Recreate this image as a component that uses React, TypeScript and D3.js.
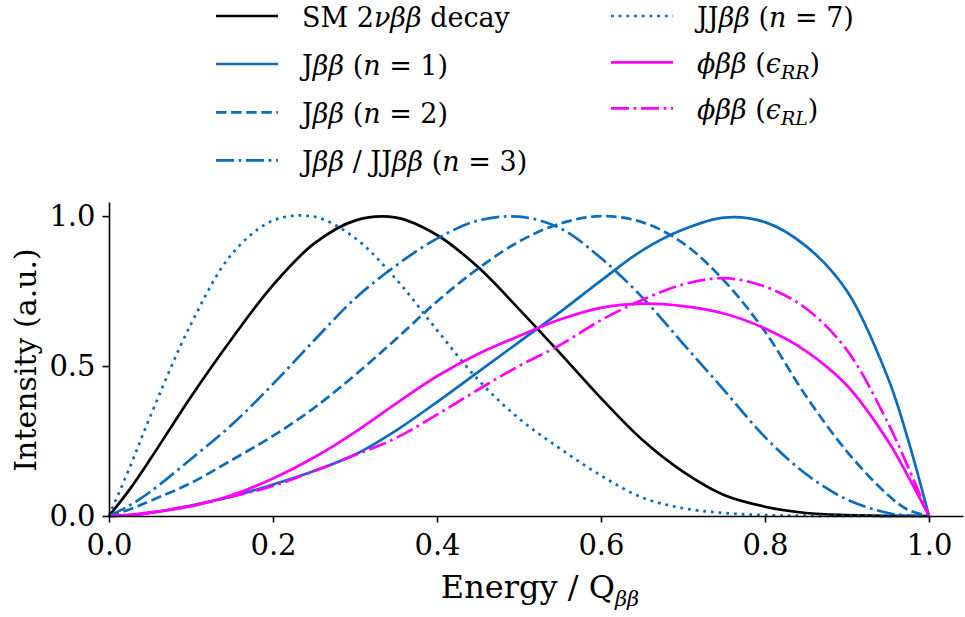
import * as d3 from "d3";
import React, { useRef, useEffect } from "react";

// sample positions along Energy / Q
const energy = [0, 0.025, 0.05, 0.1, 0.15, 0.2, 0.25, 0.3, 0.35, 0.4, 0.45, 0.5, 0.55, 0.6, 0.65, 0.7, 0.75, 0.8, 0.85, 0.9, 0.95, 0.975, 1.0];

const smDecay = [0, 0.088, 0.188, 0.398, 0.592, 0.77, 0.908, 0.985, 0.995, 0.937, 0.83, 0.69, 0.543, 0.393, 0.255, 0.148, 0.07, 0.031, 0.01, 0.003, 0.0005, 0, 0];
const jbbN1 = [0, 0.003, 0.01, 0.035, 0.065, 0.105, 0.15, 0.205, 0.285, 0.38, 0.48, 0.58, 0.68, 0.785, 0.885, 0.955, 0.995, 0.98, 0.9, 0.75, 0.46, 0.25, 0];
const jbbN2 = [0, 0.022, 0.05, 0.11, 0.187, 0.267, 0.36, 0.47, 0.59, 0.715, 0.825, 0.915, 0.975, 1.0, 0.98, 0.91, 0.785, 0.615, 0.4, 0.215, 0.07, 0.02, 0];
const jbbN3 = [0, 0.035, 0.08, 0.19, 0.305, 0.44, 0.585, 0.725, 0.835, 0.925, 0.985, 0.998, 0.96, 0.86, 0.73, 0.575, 0.42, 0.263, 0.14, 0.055, 0.01, 0.002, 0];
const jjbbN7 = [0, 0.16, 0.33, 0.64, 0.874, 0.985, 0.998, 0.927, 0.79, 0.62, 0.455, 0.325, 0.225, 0.135, 0.062, 0.026, 0.01, 0.003, 0.001, 0, 0, 0, 0];
const phiRR = [0, 0.004, 0.012, 0.032, 0.07, 0.125, 0.195, 0.28, 0.375, 0.466, 0.54, 0.6, 0.655, 0.694, 0.708, 0.7, 0.675, 0.625, 0.55, 0.435, 0.25, 0.13, 0];
const phiRL = [0, 0.003, 0.01, 0.035, 0.065, 0.1, 0.15, 0.203, 0.26, 0.338, 0.421, 0.5, 0.57, 0.653, 0.72, 0.772, 0.793, 0.765, 0.692, 0.553, 0.31, 0.16, 0];

const xTicks = [0, 0.2, 0.4, 0.6, 0.8, 1.0];
const yTicks = [0, 0.5, 1.0];

type Part = { t: string; i?: boolean; sub?: boolean };

const labelSM: Part[] = [{ t: "SM 2" }, { t: "νββ", i: true }, { t: " decay" }];
const labelN1: Part[] = [{ t: "J" }, { t: "ββ", i: true }, { t: " (" }, { t: "n", i: true }, { t: " = 1)" }];
const labelN2: Part[] = [{ t: "J" }, { t: "ββ", i: true }, { t: " (" }, { t: "n", i: true }, { t: " = 2)" }];
const labelN3: Part[] = [{ t: "J" }, { t: "ββ", i: true }, { t: " / JJ" }, { t: "ββ", i: true }, { t: " (" }, { t: "n", i: true }, { t: " = 3)" }];
const labelN7: Part[] = [{ t: "JJ" }, { t: "ββ", i: true }, { t: " (" }, { t: "n", i: true }, { t: " = 7)" }];
const labelRR: Part[] = [{ t: "ϕββ", i: true }, { t: " (" }, { t: "ϵ", i: true }, { t: "RR", i: true, sub: true }, { t: ")" }];
const labelRL: Part[] = [{ t: "ϕββ", i: true }, { t: " (" }, { t: "ϵ", i: true }, { t: "RL", i: true, sub: true }, { t: ")" }];

const BLUE = "#0a6cbf";
const MAGENTA = "#ff00ff";

const series = [
  { values: smDecay, label: labelSM, color: "#000", dash: null, col: 0, row: 0 },
  { values: jbbN1, label: labelN1, color: BLUE, dash: null, col: 0, row: 1 },
  { values: jbbN2, label: labelN2, color: BLUE, dash: "10.5,4.6", col: 0, row: 2 },
  { values: jbbN3, label: labelN3, color: BLUE, dash: "18,4.6,2.8,4.6", col: 0, row: 3 },
  { values: jjbbN7, label: labelN7, color: BLUE, dash: "2.8,4.9", col: 1, row: 0 },
  { values: phiRR, label: labelRR, color: MAGENTA, dash: null, col: 1, row: 1 },
  { values: phiRL, label: labelRL, color: MAGENTA, dash: "18,4.6,2.8,4.6", col: 1, row: 2 },
];

const FONT = "'DejaVu Serif', serif";

export default function App() {
  const svgRef = useRef<SVGSVGElement>(null);

  useEffect(() => {
    const svg = d3.select(svgRef.current);
    svg.selectAll("*").remove();

    const x = d3.scaleLinear().domain([0, 1.0415]).range([109, 963]);
    const y = d3.scaleLinear().domain([0, 1.047]).range([516, 202]);

    const line = d3
      .line<number>()
      .x((_, i) => x(energy[i]))
      .y((d) => y(d))
      .curve(d3.curveCatmullRom.alpha(0.5));

    // curves
    series.forEach((s) => {
      svg
        .append("path")
        .attr("d", line(s.values))
        .attr("fill", "none")
        .attr("stroke", s.color)
        .attr("stroke-width", 2.7)
        .attr("stroke-dasharray", s.dash);
    });

    // axes
    const xAxis = svg
      .append("g")
      .attr("transform", "translate(0,516)")
      .call(d3.axisBottom(x).tickValues(xTicks).tickFormat(d3.format(".1f")).tickSize(6.5).tickSizeOuter(0).tickPadding(12));
    const yAxis = svg
      .append("g")
      .attr("transform", "translate(109,0)")
      .call(d3.axisLeft(y).tickValues(yTicks).tickFormat(d3.format(".1f")).tickSize(6.5).tickSizeOuter(0).tickPadding(7));

    [xAxis, yAxis].forEach((g) => {
      g.select(".domain").attr("stroke", "#000").attr("stroke-width", 1.6);
      g.selectAll(".tick line").attr("stroke", "#000").attr("stroke-width", 1.6);
      g.selectAll(".tick text").attr("fill", "#000").style("font-family", FONT).style("font-size", "29px");
    });

    // axis labels
    const xl = svg
      .append("text")
      .attr("x", 540)
      .attr("y", 598)
      .attr("text-anchor", "middle")
      .style("font-family", FONT)
      .style("font-size", "32px");
    xl.append("tspan").text("Energy / Q");
    xl.append("tspan").attr("dy", 8).style("font-size", "21px").style("font-style", "italic").text("ββ");

    svg
      .append("text")
      .attr("transform", "translate(36,360) rotate(-90)")
      .attr("text-anchor", "middle")
      .style("font-family", FONT)
      .style("font-size", "30px")
      .text("Intensity (a.u.)");

    // legend
    const colX = [216, 611];
    const textX = [302, 697];
    const rowY = [
      [16, 64, 112.3, 160.3],
      [16, 62.3, 108.3],
    ];
    series.forEach((s) => {
      const ly = rowY[s.col][s.row];
      svg
        .append("line")
        .attr("x1", colX[s.col])
        .attr("x2", colX[s.col] + 62)
        .attr("y1", ly)
        .attr("y2", ly)
        .attr("stroke", s.color)
        .attr("stroke-width", 2.7)
        .attr("stroke-dasharray", s.dash);
      const t = svg
        .append("text")
        .attr("x", textX[s.col])
        .attr("y", ly + 11)
        .style("font-family", FONT)
        .style("font-size", "27px");
      let shifted = false;
      s.label.forEach((p) => {
        const sp = t.append("tspan").text(p.t);
        if (p.i) sp.style("font-style", "italic");
        if (p.sub && !shifted) {
          sp.attr("dy", 6).style("font-size", "19px");
          shifted = true;
        } else if (!p.sub && shifted) {
          sp.attr("dy", -6);
          shifted = false;
        }
      });
    });
  }, []);

  return <svg ref={svgRef} width={965} height={617} style={{ position: "absolute", left: 0, top: 0, background: "#fff" }}></svg>;
}
